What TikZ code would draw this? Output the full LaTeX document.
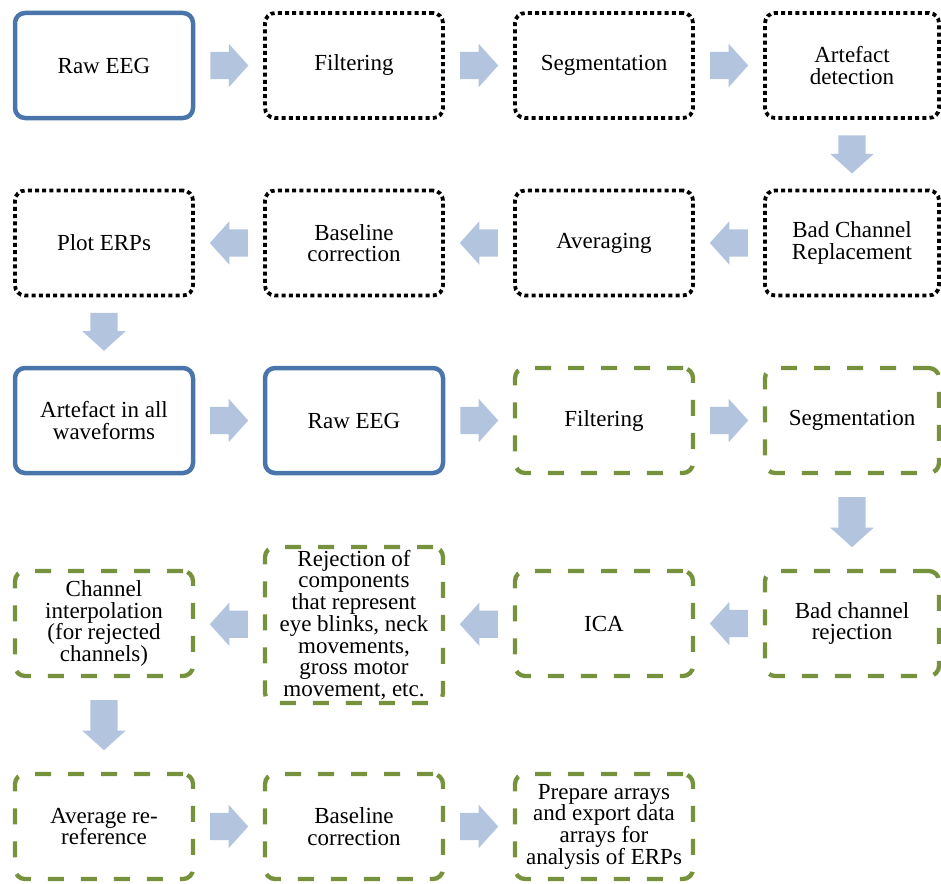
\documentclass[tikz,border=0pt]{standalone}
\usepackage{fontspec}
\setmainfont{Liberation Serif}
\usetikzlibrary{calc,shapes.arrows}
\definecolor{boxblue}{RGB}{74,117,170}
\definecolor{boxgreen}{RGB}{118,146,60}
\definecolor{arrowblue}{RGB}{179,196,223}
\tikzset{
	stage/.style={rounded corners=10pt, minimum width=178pt, minimum height=105pt, align=center, inner sep=0pt, font=\fontsize{23}{21.7}\selectfont},
	rawstage/.style={stage, draw=boxblue, line width=4.5pt},
	dotstage/.style={stage, draw=black, line width=3.8pt, dash pattern=on 4pt off 3.2pt},
	greenstage/.style={stage, draw=boxgreen, line width=4.3pt, dash pattern=on 16pt off 17pt},
	blockarrow/.style={single arrow, fill=arrowblue, draw=none, anchor=tail, single arrow head extend=8pt, single arrow tip angle=96},
	rightarrow/.style={blockarrow, inner xsep=0pt, inner ysep=13.5pt, minimum height=38pt, xshift=-19pt},
	leftarrow/.style={blockarrow, shape border rotate=180, inner xsep=0pt, inner ysep=13.5pt, minimum height=38pt, xshift=19pt},
	downarrow/.style={blockarrow, shape border rotate=270, inner xsep=13.5pt, inner ysep=0pt, minimum height=#1, yshift=#1/2},
	downarrow/.default=38pt,
}

\begin{document}
\begin{tikzpicture}[x=1pt, y=-1pt]
			%%%%% START %%%%%
			\useasboundingbox (0, 0) rectangle (941, 883);
			
			%%%%% first pipeline
			\node[rawstage] (raweeg) at (104, 65.5) {Raw EEG};
			\node[dotstage] (filtering) at (354, 65.5) {Filtering};
			\node[dotstage] (segment) at (604, 65.5) {Segmentation};
			\node[dotstage, minimum width=174pt] (artdetect) at (852, 65.5) {Artefact\\detection};
			
			\node[dotstage, minimum width=174pt] (badrepl) at (852, 243) {Bad Channel\\Replacement};
			\node[dotstage] (averaging) at (604, 243) {Averaging};
			\node[dotstage] (baseline) at (354, 243) {Baseline\\correction};
			\node[dotstage] (plot) at (104, 243) {Plot ERPs};
			
			%%%%% second pipeline
			\node[rawstage] (artall) at (104, 420.5) {Artefact in all\\waveforms};
			\node[rawstage] (raweegb) at (354, 420.5) {Raw EEG};
			\node[greenstage] (filteringb) at (604, 420.5) {Filtering};
			\node[greenstage, minimum width=174pt] (segmentb) at (852, 420.5) {Segmentation};
			
			\node[greenstage, minimum width=174pt] (badreject) at (852, 623.5) {Bad channel\\rejection};
			\node[greenstage] (ica) at (604, 623.5) {ICA};
			\node[greenstage, minimum height=156pt] (rejection) at (354, 625) {Rejection of\\components\\that represent\\eye blinks, neck\\movements,\\gross motor\\movement, etc.};
			\node[greenstage] (interp) at (104, 623.5) {Channel\\interpolation\\(for rejected\\channels)};
			
			\node[greenstage] (reref) at (104, 826.5) {Average re-\\reference};
			\node[greenstage] (baselineb) at (354, 826.5) {Baseline\\correction};
			\node[greenstage] (prepare) at (604, 826.5) {Prepare arrays\\and export data\\arrays for\\analysis of ERPs};
			
			%%%%% arrows
			\node[rightarrow] (a1) at ($(raweeg.east)!0.5!(filtering.west)$) {};
			\node[rightarrow] (a2) at ($(filtering.east)!0.5!(segment.west)$) {};
			\node[rightarrow] (a3) at ($(segment.east)!0.5!(artdetect.west)$) {};
			\node[downarrow] (a4) at ($(artdetect.south)!0.5!(badrepl.north)$) {};
			\node[leftarrow] (a5) at ($(badrepl.west)!0.5!(averaging.east)$) {};
			\node[leftarrow] (a6) at ($(averaging.west)!0.5!(baseline.east)$) {};
			\node[leftarrow] (a7) at ($(baseline.west)!0.5!(plot.east)$) {};
			\node[downarrow] (a8) at ($(plot.south)!0.5!(artall.north)$) {};
			
			\node[rightarrow] (a9) at ($(artall.east)!0.5!(raweegb.west)$) {};
			\node[rightarrow] (a10) at ($(raweegb.east)!0.5!(filteringb.west)$) {};
			\node[rightarrow] (a11) at ($(filteringb.east)!0.5!(segmentb.west)$) {};
			\node[downarrow=50pt] (a12) at ($(segmentb.south)!0.5!(badreject.north)$) {};
			\node[leftarrow] (a13) at ($(badreject.west)!0.5!(ica.east)$) {};
			\node[leftarrow] (a14) at ($(ica.west)!0.5!(rejection.east)$) {};
			\node[leftarrow] (a15) at ($(rejection.west)!0.5!(interp.east)$) {};
			\node[downarrow=50pt] (a16) at ($(interp.south)!0.5!(reref.north)$) {};
			\node[rightarrow] (a17) at ($(reref.east)!0.5!(baselineb.west)$) {};
			\node[rightarrow] (a18) at ($(baselineb.east)!0.5!(prepare.west)$) {};
			
			%%%%% END %%%%%
\end{tikzpicture}
\end{document}
